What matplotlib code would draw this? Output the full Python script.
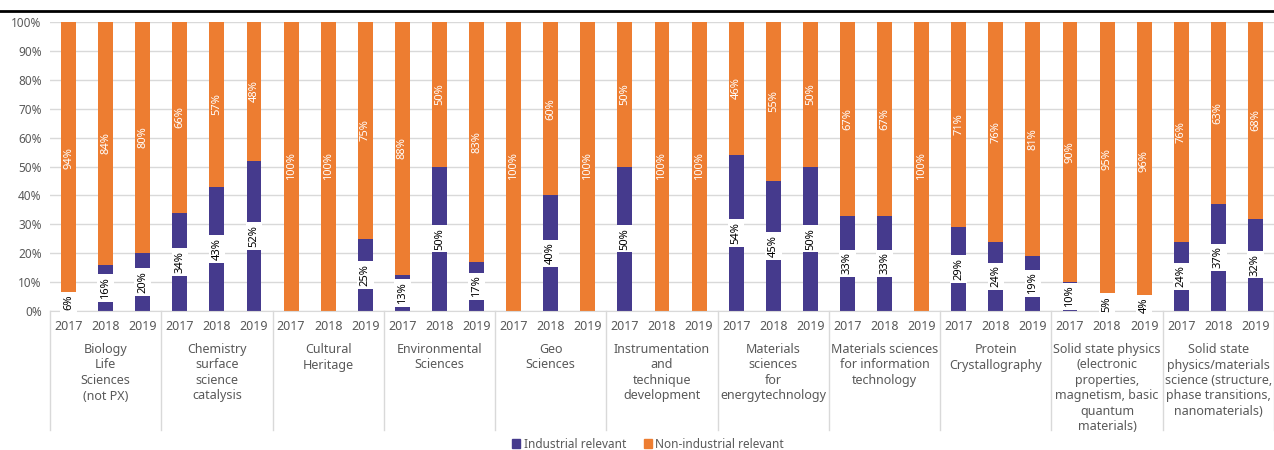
import matplotlib
matplotlib.use("Agg")
import matplotlib.pyplot as plt
from matplotlib.lines import Line2D
from matplotlib.patches import Patch
import matplotlib.transforms as mtransforms

plt.rcParams['font.family'] = ['Noto Sans', 'DejaVu Sans']

categories = [
    "Biology\nLife\nSciences\n(not PX)",
    "Chemistry\nsurface\nscience\ncatalysis",
    "Cultural\nHeritage",
    "Environmental\nSciences",
    "Geo\nSciences",
    "Instrumentation\nand\ntechnique\ndevelopment",
    "Materials\nsciences\nfor\nenergytechnology",
    "Materials sciences\nfor information\ntechnology",
    "Protein\nCrystallography",
    "Solid state physics\n(electronic\nproperties,\nmagnetism, basic\nquantum\nmaterials)",
    "Solid state\nphysics/materials\nscience (structure,\nphase transitions,\nnanomaterials)",
]
years = ["2017", "2018", "2019"]

industrial = [
    6, 16, 20,
    34, 43, 52,
    0, 0, 25,
    12.5, 50, 17,
    0, 40, 0,
    50, 0, 0,
    54, 45, 50,
    33, 33, 0,
    29, 24, 19,
    10, 5, 4,
    24, 37, 32,
]
non_industrial = [
    94, 84, 80,
    66, 57, 48,
    100, 100, 75,
    87.5, 50, 83,
    100, 60, 100,
    50, 100, 100,
    46, 55, 50,
    67, 67, 100,
    71, 76, 81,
    90, 95, 96,
    76, 63, 68,
]

PURPLE = "#453A8D"
ORANGE = "#ED7D31"
GRAY = "#595959"
GRID = "#D9D9D9"

W, H = 1274, 450
fig = plt.figure(figsize=(W / 100, H / 100), dpi=100)
ax = fig.add_axes([50 / W, (H - 311) / H, 1224 / W, 289 / H])

n = len(industrial)
x = list(range(n))
ax.bar(x, industrial, width=0.4, color=PURPLE, zorder=2, label="Industrial relevant")
ax.bar(x, non_industrial, width=0.4, bottom=industrial, color=ORANGE, zorder=2,
       label="Non-industrial relevant")


def pct(v):
    return f"{int(v + 0.5)}%"


for xi, a, b in zip(x, industrial, non_industrial):
    if a > 0:
        ax.text(xi, a / 2, pct(a), rotation=90, ha="center", va="center",
                fontsize=8, color="black", zorder=4,
                bbox=dict(boxstyle="square,pad=0.25", fc="white", ec="none"))
    if b > 0:
        ax.text(xi, a + b / 2, pct(b), rotation=90, ha="center", va="center",
                fontsize=8, color="white", zorder=4)

ax.set_xlim(-0.5, n - 0.5)
ax.set_ylim(0, 100)
ax.set_yticks(range(0, 101, 10))
ax.set_yticklabels([f"{v}%" for v in range(0, 101, 10)], fontsize=8.5, color=GRAY)
ax.yaxis.grid(True, color=GRID, linewidth=1, zorder=0)
ax.set_axisbelow(True)
ax.tick_params(axis="y", length=0, pad=6)
ax.tick_params(axis="x", length=0)
ax.set_xticks([])
for s in ["top", "right", "left"]:
    ax.spines[s].set_visible(False)
ax.spines["bottom"].set_color(GRID)

trans = mtransforms.blended_transform_factory(ax.transData, ax.transAxes)
px = 1 / 289.0
# year labels
for xi in x:
    ax.text(xi, -15 * px, years[xi % 3], transform=trans, ha="center", va="center",
            fontsize=9, color=GRAY)
# category labels
for ci, cat in enumerate(categories):
    ax.text(ci * 3 + 1, -32 * px, cat, transform=trans, ha="center", va="top",
            fontsize=9, color=GRAY, linespacing=1.25)
# dividers
for ci in range(len(categories) + 1):
    xd = ci * 3 - 0.5
    ax.add_line(Line2D([xd, xd], [0, -119 * px], transform=trans, color=GRID,
                       linewidth=1, clip_on=False))

# header rule (title cut off in reference)
fig.add_artist(Line2D([0, 1], [(H - 11) / H, (H - 11) / H], transform=fig.transFigure,
                      color="black", linewidth=2))

handles = [Patch(color=PURPLE, label="Industrial relevant"),
           Patch(color=ORANGE, label="Non-industrial relevant")]
fig.legend(handles=handles, loc="center", bbox_to_anchor=(648 / W, (H - 444) / H),
           ncol=2, frameon=False, fontsize=8.5, handlelength=0.7, handleheight=0.7,
           handletextpad=0.3, columnspacing=1.5, labelcolor=GRAY)

fig.savefig("out.png", dpi=100)
